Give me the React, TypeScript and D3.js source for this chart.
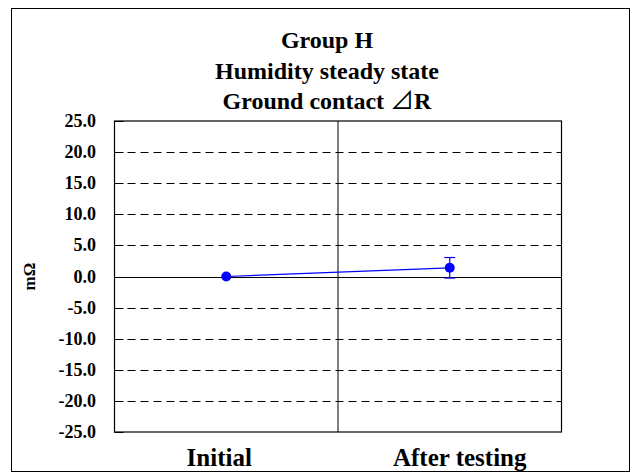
import React from "react";
import * as d3 from "d3";

const categories = ["Initial", "After testing"];
const means = [0.0, 1.4];
const errors = [0.0, 1.65];
const yTicks = [25, 20, 15, 10, 5, 0, -5, -10, -15, -20, -25];
const titleLines = ["Group H", "Humidity steady state", "Ground contact "];
const yLabel = "mΩ";

const W = 636;
const H = 473;
const plot = { left: 114.5, right: 561.5, top: 121, bottom: 432 };
const font = "'Liberation Serif', 'Times New Roman', serif";
const labelShift = [-7, 10];

export default function App() {
  const x = d3.scaleBand().domain(categories).range([plot.left, plot.right]).padding(0);
  const y = d3.scaleLinear().domain([-25, 25]).range([plot.bottom, plot.top]);
  const cx = (c: string) => (x(c) as number) + x.bandwidth() / 2;
  const pts = categories.map((c, i) => ({ c, x: cx(c), v: means[i], e: errors[i] }));
  const line = d3.line<{ x: number; v: number }>().x((d) => d.x).y((d) => y(d.v));
  const midX = plot.left + (plot.right - plot.left) / 2;
  const ts = { fontFamily: font, fontWeight: 700 } as React.CSSProperties;

  return (
    <svg width={W} height={H} style={{ position: "absolute", left: 0, top: 0, display: "block" }}>
      <rect x={0} y={0} width={W} height={H} fill="#fff" />
      <rect x={11.5} y={8.5} width={618} height={463} fill="none" stroke="#000" strokeWidth={1} />
      {titleLines.map((t, i) => (
        <text key={t} x={327} y={48 + i * 30.5} textAnchor="middle" style={{ ...ts, fontSize: 24 }}>
          {t}
          {i === 2 ? (
            <>
              <tspan style={{ fontFamily: "'Noto Sans CJK JP'", fontWeight: 400 }}>⊿</tspan>
              <tspan>R</tspan>
            </>
          ) : null}
        </text>
      ))}
      {yTicks
        .filter((t) => t !== 25 && t !== -25 && t !== 0)
        .map((t) => (
          <line key={t} x1={plot.left} x2={plot.right} y1={Math.round(y(t)) + 0.5} y2={Math.round(y(t)) + 0.5}
            stroke="#000" strokeWidth={1} strokeDasharray="8,5" />
        ))}
      <line x1={plot.left} x2={plot.right} y1={Math.round(y(0)) + 0.5} y2={Math.round(y(0)) + 0.5} stroke="#000" strokeWidth={1} />
      <line x1={midX} x2={midX} y1={plot.top} y2={plot.bottom} stroke="#000" strokeWidth={1} />
      <rect x={plot.left} y={plot.top} width={plot.right - plot.left} height={plot.bottom - plot.top} fill="none" stroke="#000" strokeWidth={1.2} />
      {yTicks.map((t) => (
        <g key={"t" + t}>
          <line x1={plot.left} x2={plot.left + 9} y1={Math.round(y(t)) + 0.5} y2={Math.round(y(t)) + 0.5} stroke="#000" />
          <text x={96} y={y(t) + 6} textAnchor="end" style={{ ...ts, fontSize: 18 }}>
            {t.toFixed(1)}
          </text>
        </g>
      ))}
      <text transform={`translate(35,${y(0)}) rotate(-90)`} textAnchor="middle" style={{ ...ts, fontSize: 17 }}>
        {yLabel}
      </text>
      {categories.map((c, i) => (
        <text key={c} x={cx(c) + labelShift[i]} y={466} textAnchor="middle" style={{ ...ts, fontSize: 25 }}>
          {c}
        </text>
      ))}
      <path d={line(pts) as string} fill="none" stroke="#0000ff" strokeWidth={1.2} />
      {pts.map((p) =>
        p.e > 0 ? (
          <g key={"e" + p.c} stroke="#0000ff" strokeWidth={1.2}>
            <line x1={p.x} x2={p.x} y1={y(p.v + p.e)} y2={y(p.v - p.e)} />
            <line x1={p.x - 5.5} x2={p.x + 5.5} y1={y(p.v + p.e)} y2={y(p.v + p.e)} />
            <line x1={p.x - 5.5} x2={p.x + 5.5} y1={y(p.v - p.e)} y2={y(p.v - p.e)} />
          </g>
        ) : null
      )}
      {pts.map((p) => (
        <circle key={"c" + p.c} cx={p.x} cy={y(p.v)} r={5} fill="#0000ff" />
      ))}
    </svg>
  );
}
